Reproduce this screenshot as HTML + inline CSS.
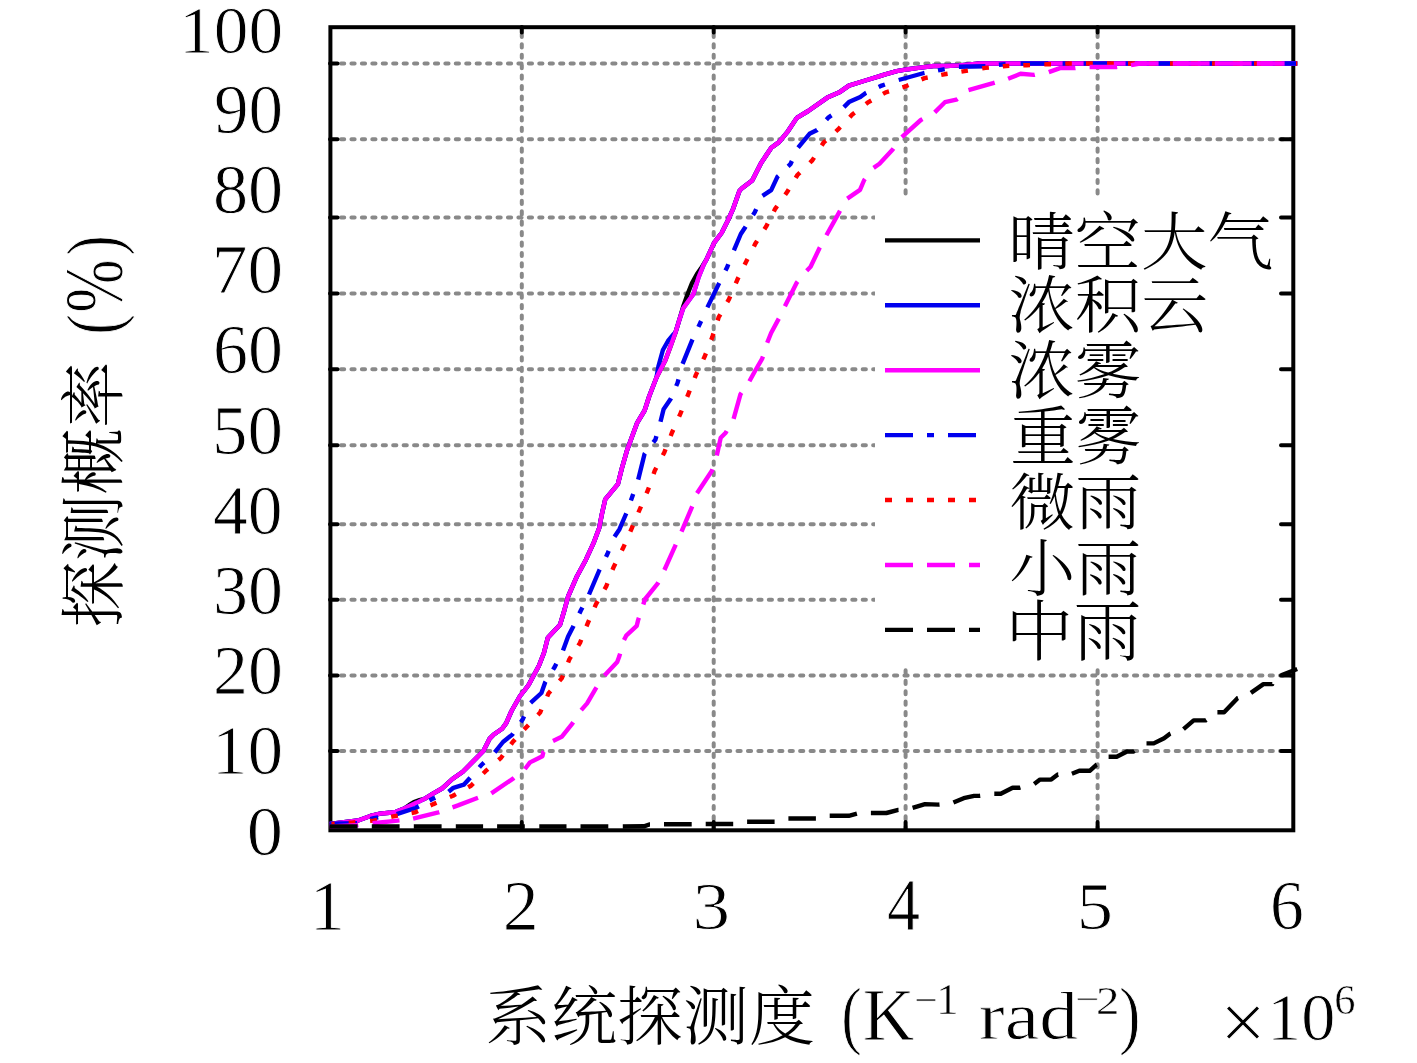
<!DOCTYPE html><html><head><meta charset="utf-8"><style>html,body{margin:0;padding:0;background:#fff;overflow:hidden}svg{display:block;will-change:transform}</style></head><body><svg width="1417" height="1063" viewBox="0 0 1417 1063">
<rect width="100%" height="100%" fill="#fff"/>
<path d="M341 63.5H1291 M341 139.2H1291 M341 217.4H1291 M341 293.6H1291 M341 369.3H1291 M341 445.3H1291 M341 524.3H1291 M341 599.8H1291 M341 675.6H1291 M341 751.1H1291 M521.8 33.8V829 M713.7 33.8V829 M905.6 33.8V829 M1097.6 33.8V829" stroke="#898989" stroke-width="4" stroke-dasharray="3.2 7.234" stroke-linecap="round" fill="none"/>
<rect x="875" y="197" width="416" height="470" fill="#fff"/>
<path d="M330 63.5H337.5M1293 63.5H1281 M330 139.2H337.5M1293 139.2H1281 M330 217.4H337.5M1293 217.4H1281 M330 293.6H337.5M1293 293.6H1281 M330 369.3H337.5M1293 369.3H1281 M330 445.3H337.5M1293 445.3H1281 M330 524.3H337.5M1293 524.3H1281 M330 599.8H337.5M1293 599.8H1281 M330 675.6H337.5M1293 675.6H1281 M330 751.1H337.5M1293 751.1H1281 M521.8 830V822M521.8 27V32.5 M713.7 830V822M713.7 27V32.5 M905.6 830V822M905.6 27V32.5 M1097.6 830V822M1097.6 27V32.5" stroke="#000" stroke-width="4" stroke-linecap="round" fill="none"/>
<rect x="330.4" y="27.2" width="962.9" height="803.1" fill="none" stroke="#000" stroke-width="4"/>
<g fill="none" stroke-width="4.4" stroke-linejoin="round">
<path d="M329.8 824.0 340.0 822.8 350.0 821.5 358.0 820.5 370.5 816.0 380.0 813.6 389.5 812.8 395.9 811.8 404.2 808.6 409.0 805.2 414.0 802.0 419.5 800.2 424.5 798.8 433.4 793.3 442.0 788.5 445.2 785.7 452.4 779.0 462.8 771.7 473.1 761.4 483.4 751.0 489.7 738.6 493.8 734.5 502.1 728.8 506.2 723.1 511.5 711.0 520.0 696.0 524.8 690.0 528.7 684.8 538.9 665.7 543.9 653.0 547.8 637.8 560.0 624.8 564.3 610.5 568.1 596.5 577.0 576.2 585.9 559.7 593.5 543.2 599.2 527.9 602.0 513.5 605.2 499.4 617.9 484.1 621.7 468.9 626.8 451.1 631.9 437.1 637.0 423.2 644.6 410.5 649.3 396.0 656.5 377.5 665.4 360.3 670.5 346.4 675.5 332.4 679.4 319.7 683.2 306.5 688.0 293.0 692.0 283.0 697.0 274.0 701.0 268.3 706.5 259.4 714.1 242.9 721.7 232.7 728.1 220.0 733.2 208.6 739.5 190.8 742.0 188.3 752.2 180.6 756.0 173.0 761.1 162.9 771.3 147.7 779.0 142.1 787.9 131.3 796.8 117.9 808.2 111.0 827.3 97.6 840.0 91.9 848.9 85.6 865.4 80.5 878.1 76.7 885.2 74.3 896.7 71.1 908.1 69.2 918.2 67.9 933.5 66.0 946.2 66.0 958.9 65.4 980.4 63.5 1297.2 63.5" stroke="#000"/>
<path d="M329.8 824.0 340.0 822.8 350.0 821.5 358.0 820.5 370.5 816.0 380.0 813.6 389.5 812.8 395.9 811.8 404.2 808.6 416.9 802.6 424.5 798.8 433.4 793.3 442.0 788.5 445.2 785.7 452.4 779.0 462.8 771.7 473.1 761.4 483.4 751.0 489.7 738.6 493.8 734.5 502.1 728.8 506.2 723.1 511.5 711.0 520.0 696.0 524.8 690.0 528.7 684.8 538.9 665.7 543.9 653.0 547.8 637.8 560.0 624.8 564.3 610.5 568.1 596.5 577.0 576.2 585.9 559.7 593.5 543.2 599.2 527.9 602.0 513.5 605.2 499.4 617.9 484.1 621.7 468.9 626.8 451.1 631.9 437.1 637.0 423.2 644.6 410.5 649.3 396.0 656.5 377.5 658.5 366.0 662.9 350.0 668.0 341.0 673.0 334.9 675.5 332.4 679.4 319.7 683.2 308.3 693.3 294.3 698.4 277.8 703.5 265.1 706.5 259.4 714.1 242.9 721.7 232.7 728.1 220.0 733.2 208.6 739.5 190.8 742.0 188.3 752.2 180.6 756.0 173.0 761.1 162.9 771.3 147.7 779.0 142.1 787.9 131.3 796.8 117.9 808.2 111.0 827.3 97.6 840.0 91.9 848.9 85.6 865.4 80.5 878.1 76.7 885.2 74.3 896.7 71.1 908.1 69.2 918.2 67.9 933.5 66.0 946.2 66.0 958.9 65.4 980.4 63.5 1297.2 63.5" stroke="#0000ee"/>
<path d="M329.8 824.0 340.0 822.8 350.0 821.5 358.0 820.5 370.5 816.0 380.0 813.6 389.5 812.8 395.9 811.8 404.2 808.6 416.9 802.6 424.5 798.8 433.4 793.3 442.0 788.5 445.2 785.7 452.4 779.0 462.8 771.7 473.1 761.4 483.4 751.0 489.7 738.6 493.8 734.5 502.1 728.8 506.2 723.1 511.5 711.0 520.0 696.0 524.8 690.0 528.7 684.8 538.9 665.7 543.9 653.0 547.8 637.8 560.0 624.8 564.3 610.5 568.1 596.5 577.0 576.2 585.9 559.7 593.5 543.2 599.2 527.9 602.0 513.5 605.2 499.4 617.9 484.1 621.7 468.9 626.8 451.1 631.9 437.1 637.0 423.2 644.6 410.5 649.3 396.0 656.5 377.5 665.4 360.3 670.5 346.4 675.5 332.4 679.4 319.7 683.2 308.3 693.3 294.3 698.4 277.8 703.5 265.1 706.5 259.4 714.1 242.9 721.7 232.7 728.1 220.0 733.2 208.6 739.5 190.8 742.0 188.3 752.2 180.6 756.0 173.0 761.1 162.9 771.3 147.7 779.0 142.1 787.9 131.3 796.8 117.9 808.2 111.0 827.3 97.6 840.0 91.9 848.9 85.6 865.4 80.5 878.1 76.7 885.2 74.3 896.7 71.1 908.1 69.2 918.2 67.9 933.5 66.0 946.2 66.0 958.9 65.4 980.4 63.5 1297.2 63.5" stroke="#ff00ff"/>
<path d="M329.8 823.8 357.0 823.2M370.4 819.1 373.7 818.1 378.2 817.3M396.7 814.2 415.6 808.0 418.8 806.3M429.5 800.5 432.1 799.1 435.2 797.7M448.6 791.7 453.4 787.8 463.8 784.7 469.0 779.0 470.2 777.7M479.3 767.4 481.4 765.0 484.0 762.6M494.7 752.4 503.0 742.0 512.3 734.6 513.0 733.5M520.8 722.2 522.6 719.6 524.1 716.4M530.6 702.9 541.4 693.0 545.2 682.2 545.6 681.6M553.0 669.7 554.7 667.0 556.3 663.8M563.0 650.4 568.1 636.5 573.0 627.0 573.5 625.9M579.4 613.5 580.8 610.5 582.4 607.4M589.0 594.5 599.2 570.5 599.7 569.5M606.0 556.9 607.4 554.0 608.7 550.8M614.5 536.7 619.5 529.2 626.0 514.0 626.3 513.3M630.9 500.6 632.0 497.5 633.2 494.0M638.2 479.6 644.6 453.7 644.9 453.3M653.3 442.4 655.4 439.7 656.4 436.2M660.5 421.8 663.6 409.2 670.6 399.0 671.0 398.2M676.2 386.0 677.5 383.0 678.5 379.4M682.6 363.9 692.0 340.6 692.6 339.4M698.4 326.9 699.7 324.1 701.1 321.0M707.4 307.4 718.7 284.1 719.2 283.1M725.5 270.6 727.0 267.6 728.3 264.2M733.9 250.3 740.8 234.0 744.6 228.3 745.6 226.7M753.0 215.0 754.7 212.4 756.2 209.1M762.5 195.8 771.2 190.2 777.5 176.6 778.4 175.8M788.1 166.4 790.4 164.2 791.9 161.0M798.1 147.6 809.5 133.8 817.1 130.0 817.2 129.9M826.4 119.7 828.6 117.3 831.5 115.4M843.9 107.1 848.9 102.1 860.3 97.0 865.4 93.2 866.2 92.8M878.7 87.0 881.7 85.6 884.9 84.5M898.7 80.0 924.0 73.0 924.5 72.9M938.0 70.4 941.1 69.8 944.7 69.2M958.9 66.7 985.4 66.2M998.9 64.8 1002.0 64.5 1005.6 64.3M1020.6 63.5 1048.3 63.5M1062.6 63.5 1069.3 63.5M1083.6 63.5 1111.3 63.5M1125.6 63.5 1132.3 63.5M1146.6 63.5 1174.3 63.5M1188.6 63.5 1195.3 63.5M1209.6 63.5 1237.3 63.5M1251.6 63.5 1258.3 63.5M1272.6 63.5 1297.2 63.5" stroke="#0000ee"/>
<path d="M331.5 824.0 334.7 823.8M348.7 822.8 352.0 822.6 355.4 822.3M370.1 820.9 373.7 820.6 377.0 819.9M391.2 816.9 394.6 816.2 397.8 815.6M411.6 813.0 415.0 812.4 418.0 811.0M430.5 805.4 433.4 804.1 436.5 802.8M449.8 797.1 453.0 795.7 455.9 794.1M468.1 787.3 471.0 785.7 473.3 783.4M483.2 773.5 485.5 771.2 487.9 769.1M498.5 760.0 501.0 757.8 502.9 755.2M511.0 744.4 512.9 741.8 515.1 739.4M524.1 729.6 526.3 727.2 528.5 724.9M537.9 714.9 540.1 712.6 541.4 709.5M547.2 696.5 548.5 693.4 550.6 691.0M559.5 680.9 561.7 678.4 562.9 675.5M568.1 662.5 569.3 659.4 571.0 656.7M578.3 645.6 580.0 642.9 581.2 639.8M586.5 626.4 587.8 623.2 589.1 620.1M594.6 607.3 596.0 604.1 597.7 601.2M604.5 589.3 606.2 586.4 607.4 583.2M612.5 569.9 613.8 566.7 615.4 563.5M621.8 550.6 623.3 547.6 624.7 544.4M630.3 531.6 631.6 528.6 632.9 525.4M638.4 512.5 639.7 509.5 641.0 506.5M646.5 493.4 647.8 490.5 648.9 487.4M653.6 473.9 654.7 470.8 656.3 467.8M662.8 455.3 664.3 452.4 665.5 449.2M670.7 435.9 671.9 432.7 673.3 429.7M679.1 416.7 680.4 413.7 681.7 410.5M687.2 396.8 688.5 393.6 689.7 390.5M694.7 378.0 695.9 374.9 697.3 372.0M703.3 359.4 704.7 356.5 705.9 353.4M711.2 339.9 712.4 336.8 713.4 333.5M717.7 320.5 718.7 317.2 720.4 314.3M727.3 302.2 728.9 299.4 730.2 296.4M735.8 283.3 737.1 280.3 738.5 277.3M744.6 264.7 746.0 261.9 747.5 258.9M753.9 246.5 755.4 243.5 757.1 240.8M764.4 229.2 766.2 226.4 767.7 223.5M773.8 211.5 775.3 208.6 777.2 206.0M785.2 194.8 787.1 192.1 788.7 189.4M795.7 177.8 797.4 175.0 799.9 172.6M809.9 162.8 812.3 160.4 814.1 157.6M821.7 145.5 823.5 142.7 825.8 140.6M835.8 131.5 838.1 129.4 840.3 127.1M849.8 117.2 852.0 114.8 854.6 112.8M865.9 104.1 868.5 102.1 871.3 100.5M883.0 93.9 885.8 92.3 889.0 91.4M902.4 87.3 905.5 86.4 908.5 85.1M921.5 79.4 924.6 78.1 927.7 77.5M941.2 74.9 944.3 74.3 947.6 73.8M961.4 71.6 964.6 71.1 967.9 70.6M982.2 68.4 985.5 67.9 988.9 67.6M1002.8 66.3 1006.0 66.0 1009.3 65.9M1023.3 65.3 1026.7 65.2 1030.0 65.1M1044.3 64.4 1047.6 64.3 1051.0 64.2M1065.3 63.6 1068.5 63.5 1071.8 63.5M1086.0 63.5 1092.8 63.5M1107.0 63.5 1113.8 63.5M1128.0 63.5 1134.8 63.5M1149.0 63.5 1155.8 63.5M1170.0 63.5 1176.8 63.5M1191.0 63.5 1197.8 63.5M1212.0 63.5 1218.8 63.5M1233.0 63.5 1239.8 63.5M1254.0 63.5 1260.8 63.5M1275.0 63.5 1281.8 63.5M1296.0 63.5 1297.2 63.5" stroke="#ff0000"/>
<path d="M329.8 826.5 357.0 825.3 358.3 825.1M372.6 823.2 397.8 820.6 399.5 820.4M413.1 818.7 438.4 812.4 439.3 812.1M452.5 807.3 458.0 805.4 478.0 797.8 478.0 797.8M491.3 793.4 513.4 778.4 514.0 777.9M524.9 769.0 530.0 762.4 542.4 756.2 543.4 752.1 543.9 751.5M553.0 740.9 561.7 736.8 572.3 723.6 573.2 722.2M581.2 710.1 587.1 703.4 595.4 689.1 596.5 687.4M604.5 675.5 617.2 662.0 619.4 656.0 620.1 653.6M624.0 640.1 626.2 635.7 636.7 625.9 638.2 619.9 638.9 617.8M643.3 604.5 644.8 599.5 657.6 583.7 658.3 582.4M664.4 570.0 675.2 545.9 675.7 544.7M681.5 531.7 691.7 507.6 692.2 506.4M697.0 493.2 711.9 470.8 712.4 469.3M716.8 455.5 720.7 437.7 725.7 432.7 726.7 431.0M733.6 418.8 740.5 394.2 741.5 392.8M749.4 381.3 755.3 370.5 762.2 358.7 762.9 356.5M767.2 342.7 771.1 333.0 778.0 320.1 778.8 318.6M784.9 306.3 796.8 282.6 797.6 281.6M806.7 270.7 810.6 266.8 819.3 248.5 819.9 247.4M826.4 235.3 839.3 212.1 840.0 210.8M847.3 198.6 860.0 189.9 864.2 180.0 865.0 179.0M873.6 167.9 879.5 163.8 892.7 149.6 893.4 148.6M901.8 137.1 920.8 120.0 922.5 119.1M934.7 112.4 944.9 102.2 956.3 99.7 957.5 98.8M968.5 90.2 993.1 83.2 994.7 82.7M1008.1 78.8 1020.5 73.8 1034.0 74.9 1034.8 74.7M1048.8 72.1 1060.0 68.1 1074.7 68.1 1075.4 68.0M1089.6 67.0 1116.5 67.0 1117.1 66.9M1131.0 65.2 1140.0 63.5 1158.6 63.5M1172.8 63.5 1200.6 63.5M1214.8 63.5 1242.6 63.5M1256.8 63.5 1284.6 63.5" stroke="#ff00ff"/>
<path d="M329.8 826.5 357.2 826.5 357.6 826.5M371.8 826.5 399.1 826.5 399.6 826.5M413.8 826.5 441.0 826.5 441.6 826.5M455.8 826.5 483.1 826.5M497.1 826.5 524.4 826.5 524.8 826.5M539.3 826.5 566.5 826.5M580.5 826.5 607.9 826.5 608.3 826.5M622.8 826.5 644.0 826.3 649.2 824.5 650.0 824.5M664.0 824.3 691.4 824.2 691.7 824.2M705.7 824.0 733.2 824.0 733.2 824.0M747.1 821.8 774.5 821.8 774.6 821.8M788.4 818.5 815.8 818.5 815.9 818.5M829.7 815.8 848.8 815.8 856.9 813.6M870.9 813.0 886.4 813.0 898.3 809.9 898.5 809.9M912.6 807.9 925.0 804.1 938.5 804.6 939.5 804.5M953.4 802.6 963.7 798.2 974.1 795.9 979.3 795.9 980.2 795.8M994.3 793.7 1000.8 793.7 1012.6 787.8 1019.3 787.8 1020.4 787.5M1034.2 784.0 1040.0 779.6 1051.2 779.6 1057.8 774.5 1058.2 774.5M1071.9 773.7 1079.3 770.8 1089.7 770.8 1096.4 764.8 1096.8 764.6M1108.6 756.7 1116.7 756.7 1127.0 751.5 1133.7 751.5 1134.5 751.0M1146.5 743.4 1153.7 743.4 1164.1 738.2 1170.0 733.7 1170.5 733.5M1183.5 729.2 1193.7 720.4 1205.6 720.4 1206.3 719.9M1217.4 712.2 1224.1 712.2 1237.5 698.2 1238.1 698.0M1250.9 692.9 1263.4 684.1 1272.3 684.1 1272.4 683.8M1281.2 675.2 1297.2 669.0" stroke="#000"/>
</g>
<g>

<g stroke-width="4.4" fill="none">
<path d="M885 240.4H980" stroke="#000"/>
<path d="M885 305.3H980" stroke="#0000ee"/>
<path d="M885 370.2H980" stroke="#ff00ff"/>
<path d="M885 435.1H980" stroke="#0000ee" stroke-dasharray="28 14 7 14"/>
<path d="M885 500H980" stroke="#ff0000" stroke-dasharray="7 14"/>
<path d="M885 565H980" stroke="#ff00ff" stroke-dasharray="28 14"/>
<path d="M885 629.9H980" stroke="#000" stroke-dasharray="28 14"/>
</g>
</g>

<text transform="translate(179.02,53.02) scale(0.9914,0.9732)" style="font-family:'Liberation Serif',serif;stroke:#fff;stroke-width:0.9px;font-size:70px">100</text>
<text transform="translate(214.00,132.60) scale(0.9874,0.9958)" style="font-family:'Liberation Serif',serif;stroke:#fff;stroke-width:0.9px;font-size:70px">90</text>
<text transform="translate(212.90,213.18) scale(1.0028,0.9958)" style="font-family:'Liberation Serif',serif;stroke:#fff;stroke-width:0.9px;font-size:70px">80</text>
<text transform="translate(211.82,292.86) scale(1.0188,0.9958)" style="font-family:'Liberation Serif',serif;stroke:#fff;stroke-width:0.9px;font-size:70px">70</text>
<text transform="translate(212.99,373.43) scale(1.0005,0.9958)" style="font-family:'Liberation Serif',serif;stroke:#fff;stroke-width:0.9px;font-size:70px">60</text>
<text transform="translate(211.90,454.02) scale(1.0155,0.9958)" style="font-family:'Liberation Serif',serif;stroke:#fff;stroke-width:0.9px;font-size:70px">50</text>
<text transform="translate(212.99,533.61) scale(0.9946,0.9958)" style="font-family:'Liberation Serif',serif;stroke:#fff;stroke-width:0.9px;font-size:70px">40</text>
<text transform="translate(212.97,614.19) scale(0.9996,0.9958)" style="font-family:'Liberation Serif',serif;stroke:#fff;stroke-width:0.9px;font-size:70px">30</text>
<text transform="translate(212.97,693.83) scale(0.9996,0.9958)" style="font-family:'Liberation Serif',serif;stroke:#fff;stroke-width:0.9px;font-size:70px">20</text>
<text transform="translate(211.80,774.39) scale(1.0189,0.9958)" style="font-family:'Liberation Serif',serif;stroke:#fff;stroke-width:0.9px;font-size:70px">10</text>
<text transform="translate(246.81,854.93) scale(1.0342,0.9958)" style="font-family:'Liberation Serif',serif;stroke:#fff;stroke-width:0.9px;font-size:70px">0</text>
<text transform="translate(309.84,930.03) scale(1.0087,1.0265)" style="font-family:'Liberation Serif',serif;stroke:#fff;stroke-width:0.9px;font-size:70px">1</text>
<text transform="translate(502.83,930.05) scale(1.0298,1.0148)" style="font-family:'Liberation Serif',serif;stroke:#fff;stroke-width:0.9px;font-size:70px">2</text>
<text transform="translate(692.62,929.02) scale(1.0740,0.9592)" style="font-family:'Liberation Serif',serif;stroke:#fff;stroke-width:0.9px;font-size:70px">3</text>
<text transform="translate(886.97,930.04) scale(0.9448,1.0431)" style="font-family:'Liberation Serif',serif;stroke:#fff;stroke-width:0.9px;font-size:70px">4</text>
<text transform="translate(1076.72,929.01) scale(1.0364,0.9701)" style="font-family:'Liberation Serif',serif;stroke:#fff;stroke-width:0.9px;font-size:70px">5</text>
<text transform="translate(1270.10,928.99) scale(0.9679,0.9888)" style="font-family:'Liberation Serif',serif;stroke:#fff;stroke-width:0.9px;font-size:70px">6</text>
<text transform="translate(485.26,1038.51) scale(0.9420,0.9091)" style="font-family:'Liberation Serif','Noto Serif CJK SC',serif;font-weight:300;font-size:70px">系统探测度</text>
<text transform="translate(841.32,1040.22) scale(0.8831,1.0760)" style="font-family:'Liberation Serif',serif;stroke:#fff;stroke-width:0.9px;font-size:70px">(</text>
<text transform="translate(862.83,1040.05) scale(1.0233,1.0489)" style="font-family:'Liberation Serif',serif;stroke:#fff;stroke-width:0.9px;font-size:70px">K</text>
<text transform="translate(914.18,1012.65) scale(0.5957,0.5500)" style="font-family:'Liberation Serif',serif;stroke:#fff;stroke-width:0.9px;font-size:70px">−</text>
<text transform="translate(935.93,1013.93) scale(0.6490,0.6297)" style="font-family:'Liberation Serif',serif;stroke:#fff;stroke-width:0.9px;font-size:70px">1</text>
<text transform="translate(978.80,1038.96) scale(1.1100,0.9585)" style="font-family:'Liberation Serif',serif;stroke:#fff;stroke-width:0.9px;font-size:70px">rad</text>
<text transform="translate(1075.40,1011.65) scale(0.6011,0.5500)" style="font-family:'Liberation Serif',serif;stroke:#fff;stroke-width:0.9px;font-size:70px">−</text>
<text transform="translate(1096.02,1014.00) scale(0.6703,0.5807)" style="font-family:'Liberation Serif',serif;stroke:#fff;stroke-width:0.9px;font-size:70px">2</text>
<text transform="translate(1119.07,1039.97) scale(0.9249,1.0928)" style="font-family:'Liberation Serif',serif;stroke:#fff;stroke-width:0.9px;font-size:70px">)</text>
<text transform="translate(1219.80,1049.80) scale(1.1777,1.1909)" style="font-family:'Liberation Serif',serif;stroke:#fff;stroke-width:0.9px;font-size:70px">×</text>
<text transform="translate(1267.06,1040.01) scale(0.9770,0.9804)" style="font-family:'Liberation Serif',serif;stroke:#fff;stroke-width:0.9px;font-size:70px">10</text>
<text transform="translate(1334.15,1014.00) scale(0.6066,0.6087)" style="font-family:'Liberation Serif',serif;stroke:#fff;stroke-width:0.9px;font-size:70px">6</text>
<text transform="translate(117.37,627.87) rotate(-90) scale(0.9519,0.9367)" style="font-family:'Liberation Serif','Noto Serif CJK SC',serif;font-weight:300;font-size:70px">探测概率</text>
<text transform="translate(118.63,334.85) rotate(-90) scale(0.8910,1.0978)" style="font-family:'Liberation Serif',serif;stroke:#fff;stroke-width:0.9px;font-size:70px">(</text>
<text transform="translate(121.15,312.75) rotate(-90) scale(0.9162,1.1645)" style="font-family:'Liberation Serif',serif;stroke:#fff;stroke-width:0.9px;font-size:70px">%</text>
<text transform="translate(118.69,255.69) rotate(-90) scale(0.8838,1.0978)" style="font-family:'Liberation Serif',serif;stroke:#fff;stroke-width:0.9px;font-size:70px">)</text>
<text transform="translate(1008.28,263.59) scale(0.9475,0.8936)" style="font-family:'Liberation Serif','Noto Serif CJK SC',serif;font-weight:300;font-size:70px">晴空大气</text>
<text transform="translate(1008.16,327.70) scale(0.9528,0.8923)" style="font-family:'Liberation Serif','Noto Serif CJK SC',serif;font-weight:300;font-size:70px">浓积云</text>
<text transform="translate(1008.15,392.75) scale(0.9532,0.8936)" style="font-family:'Liberation Serif','Noto Serif CJK SC',serif;font-weight:300;font-size:70px">浓雾</text>
<text transform="translate(1010.19,459.46) scale(0.9361,0.9162)" style="font-family:'Liberation Serif','Noto Serif CJK SC',serif;font-weight:300;font-size:70px">重雾</text>
<text transform="translate(1009.16,524.55) scale(0.9452,0.8893)" style="font-family:'Liberation Serif','Noto Serif CJK SC',serif;font-weight:300;font-size:70px">微雨</text>
<text transform="translate(1009.16,590.67) scale(0.9452,0.8906)" style="font-family:'Liberation Serif','Noto Serif CJK SC',serif;font-weight:300;font-size:70px">小雨</text>
<text transform="translate(1005.21,655.34) scale(0.9744,0.9438)" style="font-family:'Liberation Serif','Noto Serif CJK SC',serif;font-weight:300;font-size:70px">中雨</text>
</svg></body></html>
